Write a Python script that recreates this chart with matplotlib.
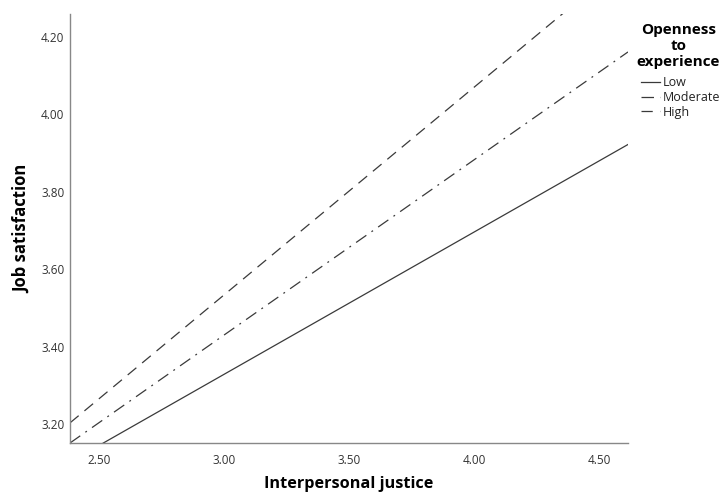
import matplotlib
matplotlib.use("Agg")
import matplotlib.pyplot as plt

plt.rcParams['font.family'] = ['Open Sans', 'DejaVu Sans']

# predicted job satisfaction at the ends of the x range
x_ends = [2.385, 4.615]
low = [3.102, 3.922]
moderate = [3.151, 4.161]
high = [3.203, 4.400]
group_names = ['Low', 'Moderate', 'High']
x_ticks = [2.50, 3.00, 3.50, 4.00, 4.50]
y_ticks = [3.20, 3.40, 3.60, 3.80, 4.00, 4.20]

fig = plt.figure(figsize=(7.23, 4.93), dpi=100)
ax = fig.add_axes([70 / 723, 1 - 443 / 493, 558 / 723, 429 / 493])

lc = '#3a3a3a'
ax.plot(x_ends, low, color=lc, lw=0.9, linestyle='-', label=group_names[0])
ax.plot(x_ends, moderate, color=lc, lw=0.9, linestyle=(0, (10, 5, 1.5, 5)), label=group_names[1])
ax.plot(x_ends, high, color=lc, lw=0.9, linestyle=(0, (9, 6)), label=group_names[2])

ax.set_xlim(2.385, 4.615)
ax.set_ylim(3.151, 4.259)
ax.set_xticks(x_ticks)
ax.set_xticklabels(['%.2f' % v for v in x_ticks])
ax.set_yticks(y_ticks)
ax.set_yticklabels(['%.2f' % v for v in y_ticks])
ax.tick_params(length=0, labelsize=8.5, colors='#333333')
ax.tick_params(axis='x', pad=8)
ax.tick_params(axis='y', pad=4)

for s in ['top', 'right']:
    ax.spines[s].set_visible(False)
for s in ['left', 'bottom']:
    ax.spines[s].set_color('#888888')
    ax.spines[s].set_linewidth(1.0)

ax.set_xlabel('Interpersonal justice', fontsize=11.7, fontweight='bold', va='center')
ax.xaxis.set_label_coords(0.5, (443 - 484) / 429)
ax.set_ylabel('Job satisfaction', fontsize=12, fontweight='bold', va='center')
ax.yaxis.set_label_coords((22 - 70) / 558, 0.5)

leg = ax.legend(title='Openness\nto\nexperience', loc='upper left',
                bbox_to_anchor=(628 / 723, 1 - 14 / 493), bbox_transform=fig.transFigure,
                frameon=False, fontsize=9, handlelength=1.5, handletextpad=0.2,
                labelspacing=0.15, borderpad=0.2)
leg.get_title().set_fontweight('bold')
leg.get_title().set_fontsize(11)
leg.get_title().set_multialignment('center')
leg.get_title().set_linespacing(1.2)
leg._legend_box.align = 'right'
leg._legend_box.sep = 5  # gap between title and entries
for t in leg.get_texts():
    t.set_color('#222222')

fig.savefig('out.png', dpi=100)
